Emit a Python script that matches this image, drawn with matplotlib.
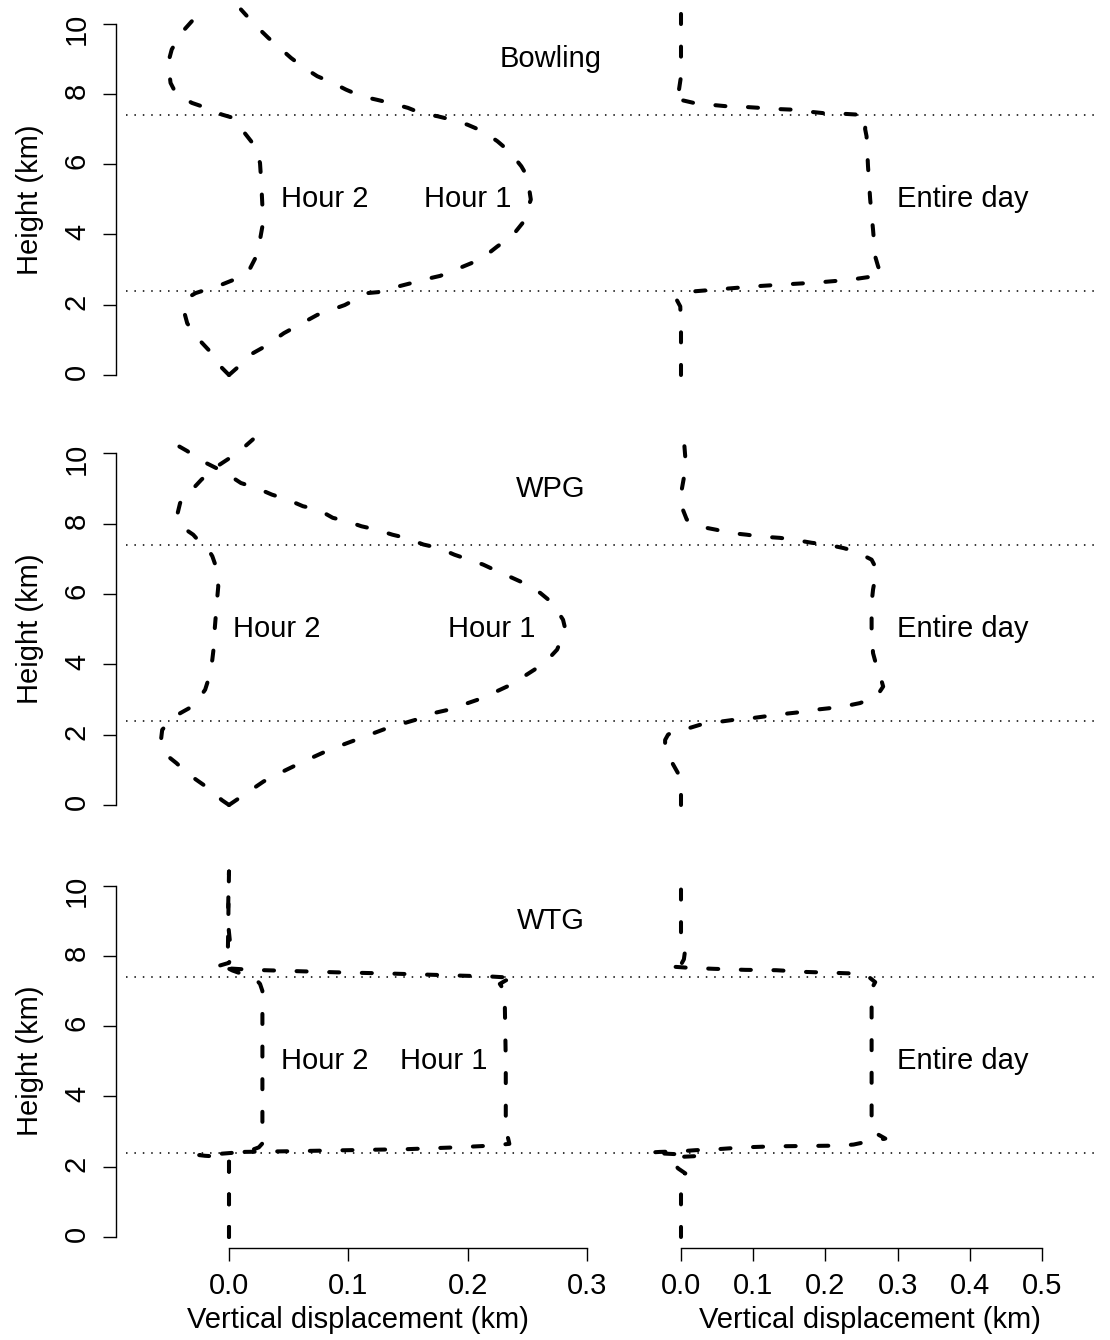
import matplotlib
matplotlib.use("Agg")
import matplotlib.pyplot as plt

plt.rcParams['font.family'] = ['Liberation Sans', 'DejaVu Sans']
plt.rcParams['font.size'] = 21

# ---- data: (height km, vertical displacement km) ----

# Bowling
bowl_h1_z = [0.0, 0.30, 0.62, 0.81, 1.19, 1.71, 1.99, 2.33, 2.37, 2.52, 2.66, 2.75, 2.82,
             3.04, 3.18, 3.42, 3.66, 3.94, 4.32, 4.99, 5.65, 5.94, 6.36, 6.65, 6.93, 7.12,
             7.26, 7.36, 7.45, 7.60, 7.74, 7.83, 7.93, 8.12, 8.31, 8.50, 8.74, 9.02, 9.26,
             9.59, 9.97, 10.40]
bowl_h1_w = [0.0, 0.010, 0.020, 0.030, 0.046, 0.074, 0.097, 0.116, 0.129, 0.142, 0.158, 0.168, 0.177,
             0.193, 0.203, 0.216, 0.225, 0.237, 0.246, 0.253, 0.250, 0.245, 0.235, 0.225, 0.213, 0.200,
             0.187, 0.175, 0.161, 0.150, 0.135, 0.124, 0.111, 0.098, 0.087, 0.074, 0.063, 0.052, 0.044,
             0.033, 0.0215, 0.010]
bowl_h2_z = [0.0, 0.24, 0.71, 1.00, 1.47, 1.85, 2.23, 2.33, 2.56, 2.71, 2.99, 3.32, 3.85, 4.23,
             4.80, 5.50, 6.03, 6.50, 6.89, 7.31, 7.41, 7.60, 7.74, 7.98, 8.31, 8.88, 9.26, 9.73,
             10.07, 10.40]
bowl_h2_w = [0.0, -0.007, -0.017, -0.025, -0.035, -0.038, -0.033, -0.028, -0.007, 0.004, 0.017, 0.022,
             0.026, 0.028, 0.028, 0.027, 0.026, 0.022, 0.013, 0.004, -0.006, -0.019, -0.031, -0.044,
             -0.049, -0.051, -0.048, -0.040, -0.031, -0.023]
bowl_day_z = [0.0, 1.30, 1.95, 2.14, 2.30, 2.37, 2.44, 2.52, 2.58, 2.63, 2.71, 2.84, 3.09, 3.37,
              4.13, 5.00, 5.94, 6.79, 7.00, 7.36, 7.41, 7.44, 7.45, 7.50, 7.55, 7.57, 7.60, 7.63,
              7.64, 7.69, 7.72, 7.83, 7.88, 7.95, 8.50, 10.35]
bowl_day_w = [0.0, 0.0, -0.001, -0.006, 0.0, 0.012, 0.054, 0.100, 0.146, 0.188, 0.234, 0.278, 0.273,
              0.269, 0.266, 0.262, 0.259, 0.257, 0.255, 0.257, 0.243, 0.218, 0.197, 0.174, 0.153,
              0.130, 0.109, 0.086, 0.066, 0.040, 0.022, -0.001, -0.011, -0.004, 0.0, 0.0]

# WPG
wpg_h1_z = [0.0, 0.30, 0.67, 0.95, 1.23, 1.57, 1.90, 2.18, 2.42, 2.61, 2.71, 2.85, 2.99, 3.18,
            3.37, 3.61, 3.85, 4.13, 4.42, 4.99, 5.27, 5.75, 6.03, 6.27, 6.50, 6.65, 6.84, 6.98,
            7.12, 7.31, 7.41, 7.60, 7.69, 7.83, 7.93, 8.07, 8.17, 8.40, 8.50, 8.69, 8.83, 9.02,
            9.16, 9.45, 9.59, 9.83, 10.07, 10.40]
wpg_h1_w = [0.0, 0.013, 0.029, 0.045, 0.062, 0.084, 0.110, 0.132, 0.156, 0.171, 0.184, 0.196, 0.208,
            0.221, 0.233, 0.245, 0.256, 0.267, 0.275, 0.282, 0.280, 0.271, 0.261, 0.250, 0.235, 0.225,
            0.213, 0.201, 0.189, 0.176, 0.163, 0.148, 0.137, 0.124, 0.111, 0.099, 0.087, 0.075, 0.062,
            0.049, 0.036, 0.023, 0.010, -0.003, -0.011, -0.025, -0.035, -0.052]
wpg_h2_z = [0.0, 0.14, 0.47, 0.66, 0.90, 1.19, 1.38, 1.85, 2.14, 2.40, 2.61, 2.80, 3.04, 3.28,
            3.60, 4.13, 4.42, 4.99, 5.84, 6.22, 6.79, 7.08, 7.36, 7.50, 7.69, 7.83, 8.02, 8.31,
            8.59, 8.74, 8.97, 9.26, 9.59, 9.88, 10.16, 10.40]
wpg_h2_w = [0.0, -0.006, -0.017, -0.025, -0.035, -0.044, -0.051, -0.057, -0.056, -0.049, -0.041,
            -0.031, -0.025, -0.020, -0.017, -0.014, -0.013, -0.012, -0.010, -0.009, -0.011, -0.014,
            -0.019, -0.025, -0.030, -0.036, -0.041, -0.043, -0.041, -0.038, -0.031, -0.023, -0.012,
            0.001, 0.012, 0.020]
wpg_day_z = [0.0, 0.33, 0.90, 1.23, 1.71, 1.85, 2.00, 2.09, 2.18, 2.28, 2.37, 2.42, 2.47, 2.52,
             2.59, 2.63, 2.71, 2.75, 2.82, 2.90, 3.09, 3.37, 3.66, 3.94, 4.32, 4.89, 5.75, 6.13,
             6.70, 6.98, 7.22, 7.31, 7.41, 7.46, 7.55, 7.60, 7.64, 7.69, 7.74, 7.83, 7.93, 8.12,
             8.59, 8.97, 9.54, 9.88, 10.40]
wpg_day_w = [0.0, 0.0, -0.004, -0.013, -0.022, -0.022, -0.018, -0.011, 0.010, 0.026, 0.054, 0.072,
             0.098, 0.116, 0.142, 0.160, 0.186, 0.204, 0.229, 0.248, 0.271, 0.280, 0.276, 0.271,
             0.266, 0.264, 0.264, 0.266, 0.271, 0.264, 0.241, 0.225, 0.202, 0.181, 0.156, 0.137,
             0.109, 0.091, 0.068, 0.049, 0.024, 0.008, -0.001, 0.001, 0.006, 0.006, 0.004]

# WTG
wtg_h1_z = [0.0, 2.20, 2.33, 2.42, 2.44, 2.47, 2.50, 2.55, 2.60, 2.65, 2.80, 3.00, 5.00, 7.00,
            7.20, 7.30, 7.37, 7.41, 7.45, 7.50, 7.53, 7.57, 7.60, 7.63, 7.66, 7.68, 7.80, 8.00,
            9.00, 10.40]
wtg_h1_w = [0.0, 0.0, 0.0, 0.010, 0.050, 0.100, 0.150, 0.190, 0.220, 0.235, 0.234, 0.232, 0.232,
            0.231, 0.227, 0.232, 0.240, 0.220, 0.180, 0.130, 0.090, 0.050, 0.020, 0.005, -0.010,
            -0.012, 0.0, 0.002, -0.001, 0.0]
wtg_h2_z = [0.0, 2.20, 2.28, 2.31, 2.33, 2.36, 2.40, 2.45, 2.55, 2.70, 3.00, 5.00, 7.00, 7.20,
            7.35, 7.45, 7.52, 7.58, 7.63, 7.70, 8.00, 10.40]
wtg_h2_w = [0.0, 0.0, -0.005, -0.020, -0.025, -0.010, 0.005, 0.017, 0.025, 0.029, 0.028, 0.028,
            0.028, 0.026, 0.022, 0.015, 0.008, 0.003, 0.0, 0.0, -0.001, 0.0]
wtg_day_z = [0.0, 1.70, 1.81, 1.95, 2.10, 2.23, 2.28, 2.30, 2.34, 2.37, 2.40, 2.42, 2.44, 2.47,
             2.49, 2.55, 2.58, 2.59, 2.60, 2.63, 2.70, 2.80, 2.95, 3.10, 6.70, 7.10, 7.25, 7.40,
             7.44, 7.49, 7.51, 7.54, 7.59, 7.60, 7.63, 7.66, 7.70, 7.75, 7.90, 8.20, 8.40, 10.05]
wtg_day_w = [0.0, 0.0, 0.006, -0.004, -0.010, -0.012, 0.0, 0.020, 0.010, -0.020, -0.045, -0.030,
             0.0, 0.020, 0.045, 0.086, 0.130, 0.175, 0.220, 0.239, 0.255, 0.283, 0.270, 0.264,
             0.264, 0.265, 0.269, 0.260, 0.252, 0.248, 0.220, 0.174, 0.132, 0.089, 0.045, 0.010,
             -0.018, 0.0, 0.004, 0.006, 0.0, 0.0]

sites = ["Bowling", "WPG", "WTG"]
hour_curves = [
    [(bowl_h1_w, bowl_h1_z), (bowl_h2_w, bowl_h2_z)],
    [(wpg_h1_w, wpg_h1_z), (wpg_h2_w, wpg_h2_z)],
    [(wtg_h1_w, wtg_h1_z), (wtg_h2_w, wtg_h2_z)],
]
day_curves = [(bowl_day_w, bowl_day_z), (wpg_day_w, wpg_day_z), (wtg_day_w, wtg_day_z)]

# label positions (data coords) for the hour labels in each row
hour1_label_x = [0.20, 0.22, 0.18]
hour2_label_x = [0.08, 0.04, 0.08]

layer_bounds = [2.4, 7.4]
y_ticks = [0, 2, 4, 6, 8, 10]
left_ticks = [0.0, 0.1, 0.2, 0.3]
right_ticks = [0.0, 0.1, 0.2, 0.3, 0.4, 0.5]

# ---- layout, in pixels of the 1110 x 1340 picture ----
W, H = 1110.0, 1340.0
zero_px = [375, 805, 1237]      # pixel row of height 0 in each panel row
km_px = 35.15                   # pixels per km
ylo, yhi = -0.31, 10.65
left_px = (116, 600)            # left panel, x = 0 at 229, 1193 px per km
right_px = (643, 1097)          # right panel, x = 0 at 681, 722 px per km
left_xlim = ((left_px[0] - 229) / 1193.0, (left_px[1] - 229) / 1193.0)
right_xlim = ((right_px[0] - 681) / 722.0, (right_px[1] - 681) / 722.0)

line_kw = dict(color="black", lw=2.9, ls=(0, (2.5, 5.6)), dash_capstyle="round",
               solid_capstyle="round")

fig = plt.figure(figsize=(11.1, 13.4), dpi=100)

for i in range(3):
    bot = zero_px[i] - ylo * km_px
    hgt = (yhi - ylo) * km_px
    axL = fig.add_axes([left_px[0] / W, 1 - bot / H, (left_px[1] - left_px[0]) / W, hgt / H])
    axR = fig.add_axes([right_px[0] / W, 1 - bot / H, (right_px[1] - right_px[0]) / W, hgt / H])

    for w, z in hour_curves[i]:
        axL.plot(w, z, **line_kw)
    axR.plot(day_curves[i][0], day_curves[i][1], **line_kw)

    for ax, xl in ((axL, left_xlim), (axR, right_xlim)):
        ax.set_xlim(xl)
        ax.set_ylim(ylo, yhi)
        ax.patch.set_visible(False)
        for sp in ax.spines.values():
            sp.set_visible(False)
        ax.tick_params(direction="out", length=9.5, width=1.0, colors="black")

    # dotted layer boundaries run across both columns
    for b in layer_bounds:
        axL.axhline(b, xmin=(126 - left_px[0]) / (left_px[1] - left_px[0]),
                    xmax=(1097 - left_px[0]) / (left_px[1] - left_px[0]),
                    clip_on=False, color="black", lw=1.1, ls=(0, (1, 4.5)))

    axL.text(0.27, 9.0, sites[i], ha="center", va="center")
    axL.text(hour2_label_x[i], 5.0, "Hour 2", ha="center", va="center")
    axL.text(hour1_label_x[i], 5.0, "Hour 1", ha="center", va="center")
    axR.text(0.39, 5.0, "Entire day", ha="center", va="center")

    # y axis on the left column only
    axL.spines["left"].set_visible(True)
    axL.spines["left"].set_bounds(0, 10)
    axL.spines["left"].set_linewidth(1.0)
    axL.set_yticks(y_ticks)
    axL.set_yticklabels([str(t) for t in y_ticks])
    axL.tick_params(axis="y", labelrotation=90, pad=8.5)
    axL.set_ylabel("Height (km)", va="center")
    axL.yaxis.set_label_coords((30 - left_px[0]) / (left_px[1] - left_px[0]), (5.0 - ylo) / (yhi - ylo))
    axR.set_yticks([])

    if i == 2:
        for ax, ticks in ((axL, left_ticks), (axR, right_ticks)):
            ax.spines["bottom"].set_visible(True)
            ax.spines["bottom"].set_bounds(ticks[0], ticks[-1])
            ax.spines["bottom"].set_linewidth(1.0)
            ax.set_xticks(ticks)
            ax.set_xticklabels(["%.1f" % t for t in ticks])
            ax.tick_params(axis="x", pad=8)
            ax.set_xlabel("Vertical displacement (km)", va="center")
            ax.xaxis.set_label_coords(0.5, -(1320 - 1248) / hgt)
    else:
        axL.set_xticks([])
        axR.set_xticks([])

fig.savefig("out.png", dpi=100)
